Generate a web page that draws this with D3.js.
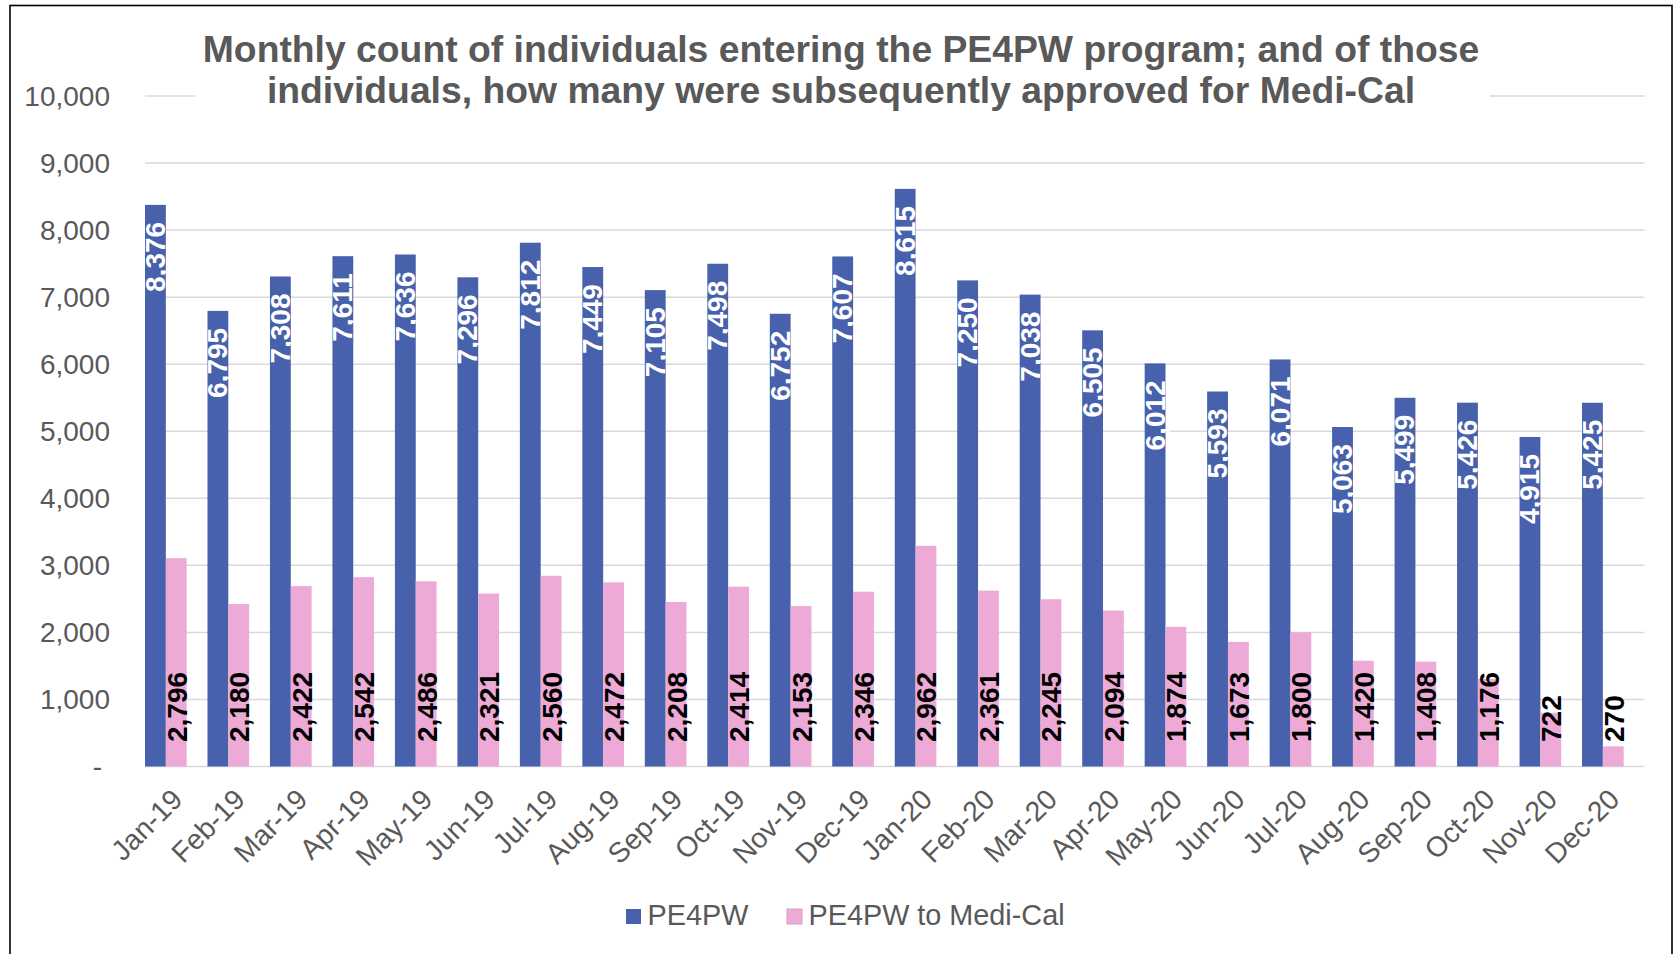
<!DOCTYPE html>
<html>
<head>
<meta charset="utf-8">
<script src="https://cdn.jsdelivr.net/npm/d3@7"></script>
<style>
  body { margin: 0; background: #fff; }
  svg { display: block; font-family: "Liberation Sans", Arial, sans-serif; }
</style>
</head>
<body>
<svg id="chart" width="1674" height="954"></svg>
<script>
// ── Data ──────────────────────────────────────────────────────────────────────
const months = ['Jan-19','Feb-19','Mar-19','Apr-19','May-19','Jun-19','Jul-19','Aug-19','Sep-19','Oct-19','Nov-19','Dec-19',
                'Jan-20','Feb-20','Mar-20','Apr-20','May-20','Jun-20','Jul-20','Aug-20','Sep-20','Oct-20','Nov-20','Dec-20'];
const pe4pw    = [8376,6795,7308,7611,7636,7296,7812,7449,7105,7498,6752,7607,8615,7250,7038,6505,6012,5593,6071,5063,5499,5426,4915,5425];
const mediCal  = [2796,2180,2422,2542,2486,2321,2560,2472,2208,2414,2153,2346,2962,2361,2245,2094,1874,1673,1800,1420,1408,1176,722,270];
const yTicks   = [0,1000,2000,3000,4000,5000,6000,7000,8000,9000,10000];
const seriesNames = ['PE4PW', 'PE4PW to Medi-Cal'];
const titleLines  = ['Monthly count of individuals entering the PE4PW program; and of those',
                     'individuals, how many were subsequently approved for Medi-Cal'];

// ── Look ──────────────────────────────────────────────────────────────────────
const BLUE = '#4861ad', PINK = '#edaad6', GREY = '#595959', GRID = '#d9d9d9';
const W = 1674, H = 954;
const M = {left: 145, right: 1644.5, top: 96, bottom: 766.5};

const svg = d3.select('#chart');
svg.append('rect').attr('width', W).attr('height', H).attr('fill', '#fff');
svg.append('rect').attr('x', 10).attr('y', 5.5).attr('width', 1662).attr('height', 980)
  .attr('fill', 'none').attr('stroke', '#000').attr('stroke-width', 1.6);

const x  = d3.scaleBand().domain(months).range([M.left, M.right]).padding(0);
const y  = d3.scaleLinear().domain([0, 10000]).range([M.bottom, M.top]);
// second series sits on a hidden secondary axis that tops out at 9,000
const y2 = d3.scaleLinear().domain([0, 9000]).range([M.bottom, M.top]);
const bw = x.bandwidth() / 3;
const fmt = d3.format(',');

// gridlines
svg.append('g').selectAll('line').data(yTicks).join('line')
  .attr('x1', M.left).attr('x2', M.right)
  .attr('y1', d => y(d)).attr('y2', d => y(d))
  .attr('stroke', GRID).attr('stroke-width', 1.5);

// y tick labels
svg.append('g').selectAll('text').data(yTicks).join('text')
  .attr('x', d => d === 0 ? 102 : 110).attr('y', d => y(d)).attr('dy', '0.35em')
  .attr('text-anchor', 'end').attr('fill', GREY).attr('font-size', 28)
  .text(d => d === 0 ? '-' : fmt(d));

// bars
const rows = months.map((m, i) => ({m, a: pe4pw[i], b: mediCal[i]}));
svg.append('g').selectAll('rect').data(rows).join('rect')
  .attr('x', d => x(d.m)).attr('width', bw)
  .attr('y', d => y(d.a)).attr('height', d => y(0) - y(d.a))
  .attr('fill', BLUE);
svg.append('g').selectAll('rect').data(rows).join('rect')
  .attr('x', d => x(d.m) + bw).attr('width', bw)
  .attr('y', d => y2(d.b)).attr('height', d => y2(0) - y2(d.b))
  .attr('fill', PINK);

// value labels
svg.append('g').selectAll('text').data(rows).join('text')
  .attr('transform', d => `translate(${x(d.m) + bw / 2},${y(d.a) + 17}) rotate(-90)`)
  .attr('text-anchor', 'end').attr('dominant-baseline', 'central')
  .attr('fill', '#fff').attr('font-weight', 'bold').attr('font-size', 28)
  .text(d => fmt(d.a));
svg.append('g').selectAll('text').data(rows).join('text')
  .attr('transform', d => `translate(${x(d.m) + bw * 1.5 + 1},${M.bottom - 24.5}) rotate(-90)`)
  .attr('text-anchor', 'start').attr('dominant-baseline', 'central')
  .attr('fill', '#000').attr('font-weight', 'bold').attr('font-size', 28)
  .text(d => fmt(d.b));

// x labels
svg.append('g').selectAll('text').data(months).join('text')
  .attr('transform', d => `translate(${x(d) + x.bandwidth() / 2 + 8},801) rotate(-45)`)
  .attr('text-anchor', 'end').attr('fill', GREY).attr('font-size', 28.3)
  .text(d => d);

// title with white box over the top gridline
svg.append('rect').attr('x', 195).attr('y', 20).attr('width', 1295).attr('height', 95).attr('fill', '#fff');
svg.append('g').selectAll('text').data(titleLines).join('text')
  .attr('x', 841).attr('y', (d, i) => 61.5 + i * 41.5)
  .attr('text-anchor', 'middle').attr('fill', GREY)
  .attr('font-weight', 'bold').attr('font-size', 37.3)
  .text(d => d);

// legend
const legend = svg.append('g');
const legX = [626, 787];
seriesNames.forEach((name, i) => {
  legend.append('rect').attr('x', legX[i]).attr('y', 909).attr('width', 15).attr('height', 15)
    .attr('fill', i ? PINK : BLUE).attr('stroke', i ? '#d8a0c4' : 'none');
  legend.append('text').attr('x', legX[i] + 21.5).attr('y', 925)
    .attr('fill', GREY).attr('font-size', 28.8).text(name);
});
</script>
</body>
</html>
